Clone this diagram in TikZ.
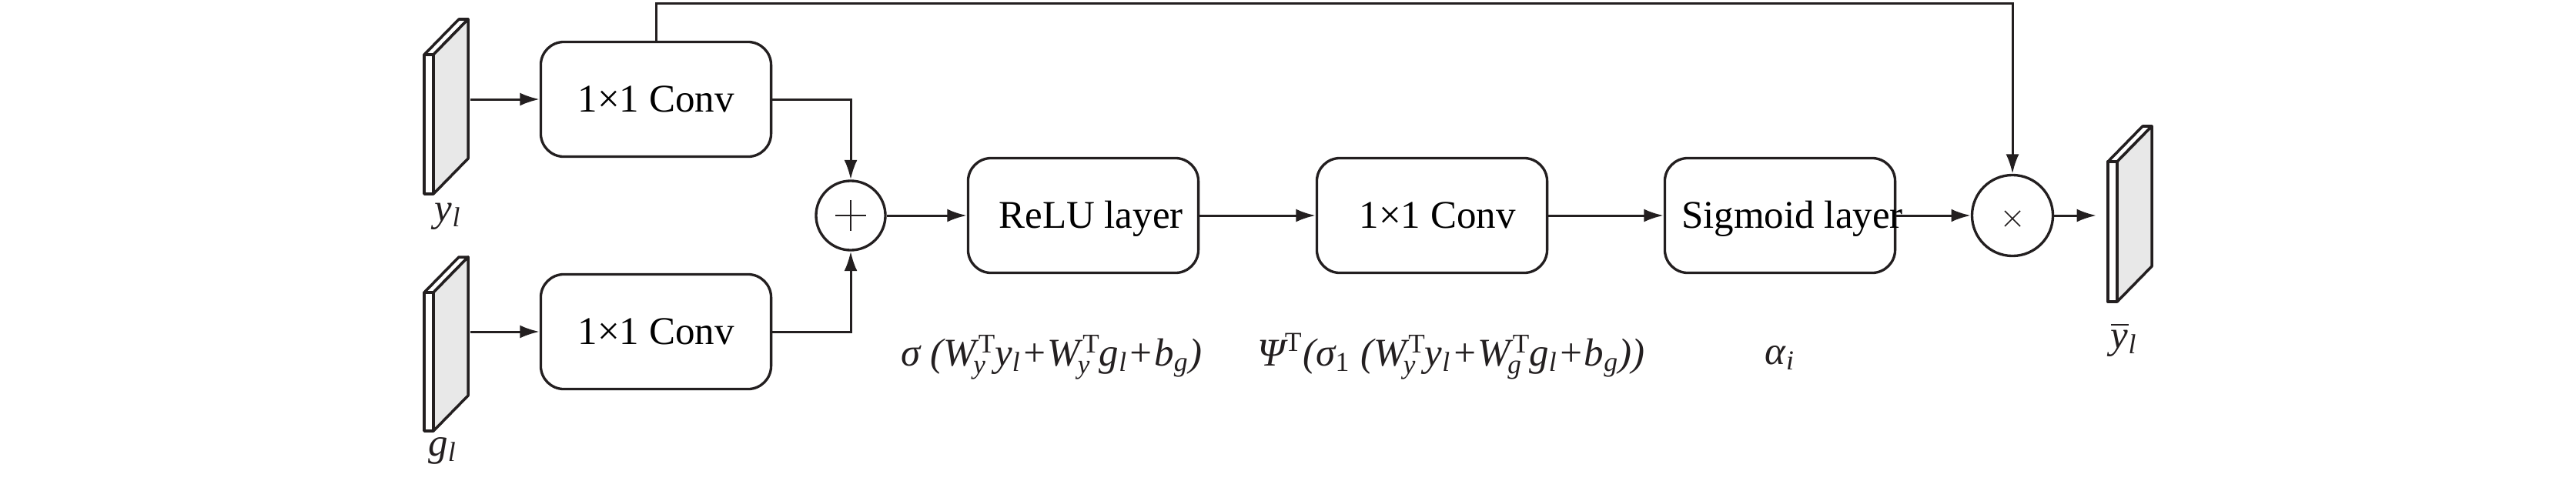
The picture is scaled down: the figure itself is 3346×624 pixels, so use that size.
\documentclass[tikz,border=0pt]{standalone}
\usepackage{fontspec}
\setmainfont{Liberation Serif}
\usepackage{amsmath}
\usepackage{graphicx}
\usetikzlibrary{arrows.meta,calc}
\definecolor{ink}{HTML}{231F20}
\definecolor{planegray}{HTML}{E8E8E8}
\newcommand{\WT}[1]{W{\fontsize{10pt}{11pt}\selectfont\rlap{\kern0.8pt\raisebox{4.6pt}{\textup{T}}}\rlap{\kern-1pt\raisebox{-2.9pt}{\textit{#1}}}\hphantom{\textup{T}}\kern0.8pt}}
\newcommand{\shiftedtext}[2]{\makebox[0pt]{\hspace*{#1}#2}}
\newcommand{\planeshape}[3]{%
  \begin{scope}[shift={(#1,#2)}]
    \draw[planeline, fill=white] (0,0) -- (45,-46) -- (57,-46) -- (12,0) -- cycle;
    \draw[planeline, fill=planegray] (12,0) -- (57,-46) -- (57,#3-46) -- (12,#3) -- cycle;
    \draw[planeline, fill=white] (0,0) rectangle (12,#3);
  \end{scope}}
\begin{document}
\begin{tikzpicture}[x=0.01cm, y=-0.01cm,
  font=\fontsize{14.5pt}{17pt}\selectfont,
  planeline/.style={draw=ink, line width=1pt, line join=round},
  blk/.style={draw=ink, line width=0.95pt, rounded corners=0.3cm, minimum width=2.99cm, minimum height=1.49cm, inner sep=0pt, text height=9.6pt, text depth=0pt},
  circ/.style={draw=ink, circle, line width=0.95pt, inner sep=0pt},
  arr/.style={draw=ink, line width=0.85pt, -{Latex[length=7.2pt,width=4.8pt]}},
  sym/.style={draw=ink, line width=0.45pt},
  lbl/.style={inner sep=0pt, text=ink}]
\useasboundingbox (0,0) rectangle (3346,624);

% planes
\planeshape{551}{71}{181}
\planeshape{551}{380}{180}
\planeshape{2738}{210}{182}

\coordinate (ylout) at (611,129);
\coordinate (glout) at (611,431);
\coordinate (yout) at (2723,280);

% boxes
\node[blk] (b1) at (852,129) {1×1 Conv};
\node[blk] (b2) at (852,431) {1×1 Conv};
\node[blk] (relu) at (1407,280) {\shiftedtext{0.2cm}{ReLU layer}};
\node[blk] (conv) at (1860,280) {\shiftedtext{0.14cm}{1×1 Conv}};
\node[blk] (sig) at (2312,280) {\shiftedtext{0.32cm}{Sigmoid layer}};

% operators
\node[circ, minimum size=0.9cm] (sum) at (1105,280) {};
\node[circ, minimum size=1.05cm] (mul) at (2614,280) {};
\draw[sym] ($(sum.center)+(-20,0)$) -- ($(sum.center)+(20,0)$);
\draw[sym] ($(sum.center)+(0,-20)$) -- ($(sum.center)+(0,20)$);
\draw[sym] ($(mul.center)+(-10,-6)$) -- ($(mul.center)+(10,14)$);
\draw[sym] ($(mul.center)+(-10,14)$) -- ($(mul.center)+(10,-6)$);

% connectors
\draw[arr] (ylout) -- (b1.west);
\draw[arr] (glout) -- (b2.west);
\draw[arr] (b1.east) -| (sum.north);
\draw[arr] (b2.east) -| (sum.south);
\draw[arr] (sum) -- (relu);
\draw[arr] (relu) -- (conv);
\draw[arr] (conv) -- (sig);
\draw[arr] (sig) -- (mul);
\draw[arr] (mul) -- (yout);
\draw[arr] (b1.north) -- ++(0,-48) -| (mul.north);

% labels
\node[lbl, anchor=base] (ylab) at (582,287) {\textit{y}\textsubscript{\textit{l}}};
\node[lbl, anchor=base] (glab) at (575,592) {\textit{g}\textsubscript{\textit{l}}};
\node[lbl, anchor=base] (alab) at (2312,473) {\textit{α}\textsubscript{\textit{i}}};
\node[lbl, anchor=base] (yolab) at (2759,452) {$\overline{\textit{y}}$\textsubscript{\textit{l}}};
\node[lbl, anchor=base] (f1) at (1366,475) {\textit{σ (\WT{y}y\textsubscript{l}+\WT{y}g\textsubscript{l}+b\textsubscript{g})}};
\node[lbl, anchor=base] (f2) at (1885,475) {\textit{Ψ$^{\textup{T}}$(σ\textsubscript{\textup{1}} (\WT{y}y\textsubscript{l}+\WT{g}g\textsubscript{l}+b\textsubscript{g}))}};
\end{tikzpicture}
\end{document}
